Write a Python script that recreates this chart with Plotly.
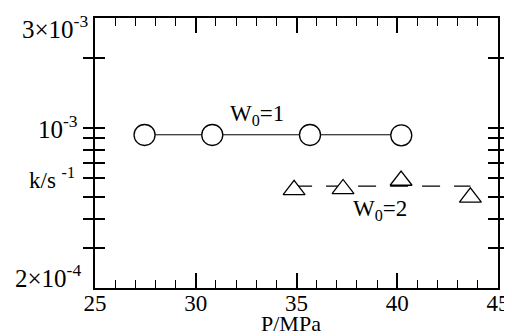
import plotly.graph_objects as go
import math

# data
p_w1 = [27.46, 30.82, 35.67, 40.2]
k_w1 = [9.28e-4, 9.28e-4, 9.28e-4, 9.25e-4]
p_w2 = [34.88, 37.31, 40.19, 43.63]
k_w2 = [5.35e-4, 5.40e-4, 5.88e-4, 4.96e-4]
fit1_p = [27.46, 40.2]
fit1_k = [9.3e-4, 9.3e-4]
fit2_p = [34.88, 43.63]
fit2_k = [5.56e-4, 5.56e-4]

ytick_vals = [2e-4, 3e-4, 4e-4, 5e-4, 6e-4, 7e-4, 8e-4, 9e-4, 1e-3, 2e-3, 3e-3]
ylabel_vals = [3e-3, 1e-3, 2e-4]
ylabel_text = ["3×10<sup>-3</sup>", "10<sup>-3</sup>", "2×10<sup>-4</sup>"]
xtick_vals = [25, 30, 35, 40, 45]

FONT = "Liberation Serif, Times New Roman, serif"
FS = 23
BLACK = "black"

# page has an 8px body margin; the figure is sized to fill the rest of the window
W, H = 504, 328
ML, MR, MT, MB = 87, 14, 10, 48
PW, PH = W - ML - MR, H - MT - MB


def paper_x(px):
    return (px - 8 - ML) / PW


def paper_y(py):
    return (H - MB - (py - 8)) / PH


fig = go.Figure()
fig.add_trace(go.Scatter(x=fit1_p, y=fit1_k, mode="lines",
                         line=dict(color=BLACK, width=1), showlegend=False, hoverinfo="skip"))
fig.add_trace(go.Scatter(x=fit2_p, y=fit2_k, mode="lines",
                         line=dict(color=BLACK, width=1.2, dash="18px,14px"),
                         showlegend=False, hoverinfo="skip"))
fig.add_trace(go.Scatter(x=p_w1, y=k_w1, mode="markers",
                         marker=dict(symbol="circle", size=21, color="white",
                                     line=dict(color=BLACK, width=1.3)),
                         showlegend=False))
fig.add_trace(go.Scatter(x=p_w2, y=k_w2, mode="markers",
                         marker=dict(symbol="triangle-up", size=19, color="white",
                                     line=dict(color=BLACK, width=1.3)),
                         showlegend=False))
# invisible trace to create the mirrored top axis with minor ticks
fig.add_trace(go.Scatter(x=fit1_p, y=fit1_k, mode="lines", xaxis="x2",
                         line=dict(color="rgba(0,0,0,0)", width=0),
                         showlegend=False, hoverinfo="skip"))

# y tick labels (placed as text beside the axis)
y_shift = [-9, 1, 12]
y_right = [-5, -15, -12]
for v, t, ys, xr in zip(ylabel_vals, ylabel_text, y_shift, y_right):
    fig.add_annotation(x=0, y=math.log10(v), xref="paper", yref="y", text=t,
                       showarrow=False, xanchor="right", yanchor="middle",
                       xshift=xr, yshift=ys,
                       font=dict(family=FONT, size=25, color=BLACK))

fig.add_annotation(x=33.06, y=-2.945, xref="x", yref="y", text="W<sub>0</sub>=1",
                   showarrow=False, xanchor="center", yanchor="middle",
                   font=dict(family=FONT, size=FS, color=BLACK))
fig.add_annotation(x=39.14, y=-3.36, xref="x", yref="y", text="W<sub>0</sub>=2",
                   showarrow=False, xanchor="center", yanchor="middle",
                   font=dict(family=FONT, size=FS, color=BLACK))
fig.add_annotation(x=paper_x(52), y=paper_y(178), xref="paper", yref="paper",
                   text="k/s <sup>-1</sup>", showarrow=False,
                   xanchor="center", yanchor="middle",
                   font=dict(family=FONT, size=FS, color=BLACK))
fig.add_annotation(x=paper_x(291), y=paper_y(323), xref="paper", yref="paper",
                   text="P/MPa", showarrow=False, xanchor="center", yanchor="middle",
                   font=dict(family=FONT, size=22, color=BLACK))

common = dict(showgrid=False, zeroline=False, automargin=False)
fig.update_layout(
    xaxis=dict(range=[25, 45], tickvals=xtick_vals, ticks="inside", ticklen=15,
               tickwidth=1.5, tickcolor=BLACK, showline=True, linewidth=2,
               linecolor=BLACK, mirror=True, ticklabelstandoff=-7,
               minor=dict(dtick=1, tick0=25, ticks="inside", ticklen=8, tickwidth=1.3,
                          tickcolor=BLACK, showgrid=False),
               tickfont=dict(family=FONT, size=FS, color=BLACK), **common),
    xaxis2=dict(range=[25, 45], overlaying="x", side="top", anchor="y",
                tickvals=xtick_vals, ticks="inside", ticklen=15, tickwidth=1.5,
                tickcolor=BLACK, showticklabels=False, showline=False,
                minor=dict(dtick=1, tick0=25, ticks="inside", ticklen=8, tickwidth=1.3,
                           tickcolor=BLACK, showgrid=False), **common),
    yaxis=dict(type="log", range=[math.log10(2e-4), math.log10(3e-3)],
               tickvals=ytick_vals, showticklabels=False, ticks="inside", ticklen=10,
               tickwidth=1.5, tickcolor=BLACK, showline=True, linewidth=2,
               linecolor=BLACK, mirror="allticks", **common),
    width=W, height=H, margin=dict(l=ML, r=MR, t=MT, b=MB),
    paper_bgcolor="white", plot_bgcolor="white",
)
fig.write_html("out.html")
